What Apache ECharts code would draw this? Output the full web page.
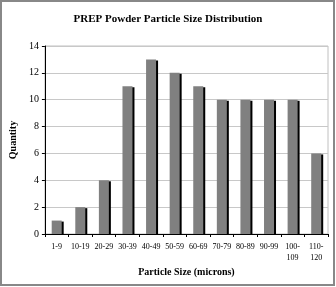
<!DOCTYPE html>
<html>
<head>
<meta charset="utf-8">
<script src="https://cdn.jsdelivr.net/npm/echarts@6/dist/echarts.min.js"></script>
<style>
  html, body { margin: 0; padding: 0; background: #fff; }
  #chart { width: 336px; height: 287px; }
</style>
</head>
<body>
<div id="chart"></div>
<script>
// particle size bins and counts
var sizeBins = ['1-9', '10-19', '20-29', '30-39', '40-49', '50-59', '60-69',
  '70-79', '80-89', '90-99', '100-\n109', '110-\n120'];
var quantity = [1, 2, 4, 11, 13, 12, 11, 10, 10, 10, 10, 6];
var yTicks = [0, 2, 4, 6, 8, 10, 12, 14];

var serif = '"Liberation Serif", "DejaVu Serif", serif';
var myChart = echarts.init(document.getElementById('chart'));

var option = {
  backgroundColor: '#fff',
  animation: false,
  title: {
    text: 'PREP Powder Particle Size Distribution',
    left: 'center',
    top: 9,
    textStyle: { fontFamily: serif, fontSize: 11, fontWeight: 'bold', color: '#000' }
  },
  graphic: [{
    type: 'rect',
    shape: { x: 1, y: 1, width: 333, height: 284 },
    style: { fill: 'none', stroke: '#888', lineWidth: 2 },
    silent: true
  }],
  grid: {
    left: 41, right: 8, top: 46, bottom: 53,
    show: true,
    borderColor: '#c0c0c0',
    borderWidth: 1
  },
  xAxis: {
    type: 'category',
    data: sizeBins,
    name: 'Particle Size (microns)',
    nameLocation: 'middle',
    nameGap: 33,
    nameTextStyle: { fontFamily: serif, fontSize: 10, fontWeight: 'bold', color: '#000' },
    axisLine: { lineStyle: { color: '#000' } },
    axisTick: { show: true, length: 3, lineStyle: { color: '#000' } },
    axisLabel: { interval: 0, fontFamily: serif, fontSize: 8, color: '#000', margin: 7, lineHeight: 11 },
    splitLine: { show: false }
  },
  yAxis: {
    type: 'value',
    min: yTicks[0],
    max: yTicks[yTicks.length - 1],
    interval: 2,
    name: 'Quantity',
    nameLocation: 'middle',
    nameGap: 24,
    nameTextStyle: { fontFamily: serif, fontSize: 10, fontWeight: 'bold', color: '#000' },
    axisLine: { show: true, lineStyle: { color: '#000' } },
    axisTick: { show: true, length: 3, lineStyle: { color: '#000' } },
    axisLabel: { fontFamily: serif, fontSize: 10, color: '#000', margin: 6 },
    splitLine: { lineStyle: { color: '#c8c8c8' } }
  },
  series: [{
    type: 'bar',
    data: quantity,
    barWidth: 10,
    itemStyle: {
      color: '#808080',
      shadowColor: '#000',
      shadowOffsetX: 2,
      shadowOffsetY: 1,
      shadowBlur: 0
    }
  }]
};

myChart.setOption(option);
</script>
</body>
</html>
